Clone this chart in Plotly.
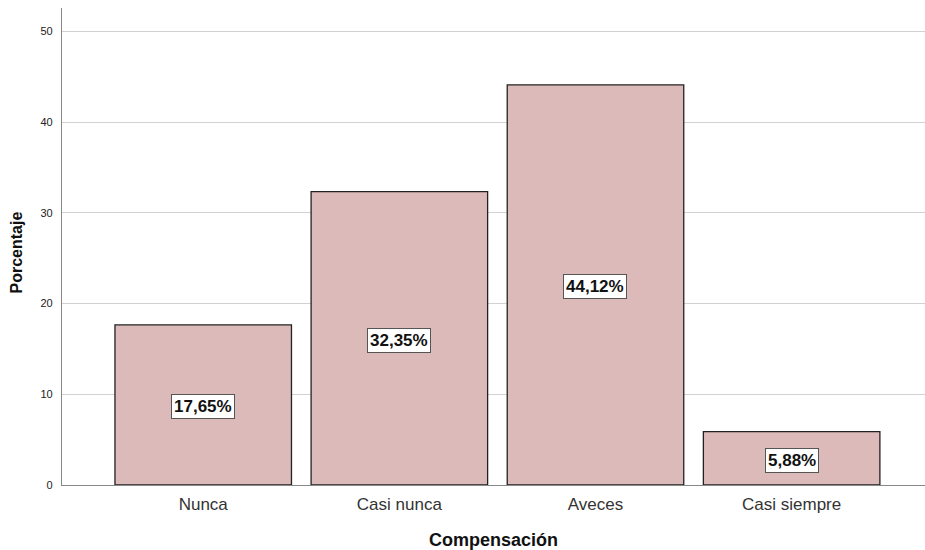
import plotly.graph_objects as go

# Distribución porcentual de respuestas sobre compensación
categorias = ["Nunca", "Casi nunca", "Aveces", "Casi siempre"]
porcentajes = [17.65, 32.35, 44.12, 5.88]
y_ticks = [0, 10, 20, 30, 40, 50]

FONT = "Liberation Sans, Arial, sans-serif"
x_pos = list(range(len(categorias)))

fig = go.Figure()
fig.add_trace(go.Bar(
    x=x_pos,
    y=porcentajes,
    width=0.9,
    marker=dict(color="#DDBABA", line=dict(color="#222222", width=1.3)),
    hoverinfo="skip",
))

# Etiquetas de valor en el centro de cada barra
for xi, v in zip(x_pos, porcentajes):
    fig.add_annotation(
        x=xi, y=v / 2,
        yshift=-2,
        text=f"<b>{v:.2f}".replace(".", ",") + "%</b>",
        showarrow=False,
        font=dict(family=FONT, size=17, color="#111111"),
        bgcolor="white",
        bordercolor="#555555",
        borderwidth=1,
        borderpad=2,
    )

# Título del eje vertical
fig.add_annotation(
    x=17, xref="paper", xanchor="center",
    y=0.4874, yref="paper", yanchor="middle",
    text="<b>Porcentaje</b>", textangle=-90, showarrow=False,
    font=dict(family=FONT, size=16, color="#111111"),
)
fig.layout.annotations[-1].update(x=(17 - 62) / 863)

fig.update_layout(
    width=925, height=550,
    margin=dict(l=62, r=0, t=8, b=65),
    plot_bgcolor="white",
    paper_bgcolor="white",
    showlegend=False,
    font=dict(family=FONT, color="#222222"),
    xaxis=dict(
        range=[-0.72, 3.68],
        tickmode="array",
        tickvals=x_pos,
        ticktext=categorias,
        tickfont=dict(size=17, color="#333333"),
        ticklabelstandoff=4,
        showgrid=False,
        showline=True, linecolor="#888888", linewidth=1,
        ticks="", zeroline=False,
        title=dict(text="<b>Compensación</b>", font=dict(size=18, color="#111111"), standoff=20),
    ),
    yaxis=dict(
        range=[0, 52.6],
        tickmode="array",
        tickvals=y_ticks,
        tickfont=dict(size=11, color="#222222"),
        showgrid=True, gridcolor="#D2D2D2", gridwidth=1.4,
        showline=True, linecolor="#888888", linewidth=1.3,
        zeroline=False, ticks="",
        ticklabelstandoff=6,
    ),
)

fig.write_html("out.html")
